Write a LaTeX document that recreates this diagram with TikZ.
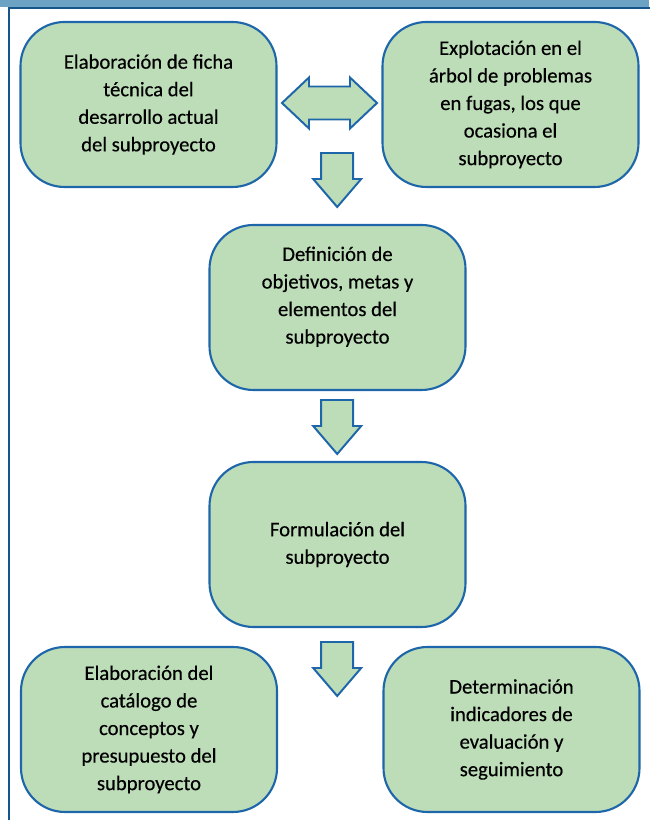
\documentclass[tikz,border=0pt]{standalone}
\usepackage{fontspec}
\setmainfont{Carlito}[FakeBold=0.35]
\usepackage{tikz}

\definecolor{boxgreen}{RGB}{189,220,184}
\definecolor{lineblue}{RGB}{30,102,170}
\definecolor{barblue}{RGB}{108,162,196}
\definecolor{frameblue}{RGB}{22,84,140}

\tikzset{
    stagebox/.style={draw=lineblue, fill=boxgreen, line width=1.5pt, rounded corners=1.1cm,
        minimum width=6.4cm, minimum height=4.125cm, align=center, text=black,
        font=\fontsize{14.7}{19.6}\selectfont},
    blockarrow/.style={draw=lineblue, fill=boxgreen, line width=1.4pt, line join=miter}
}

\begin{document}
\begin{tikzpicture}
        \useasboundingbox (0, 0) rectangle (16.225, 20.5);

        \begin{scope}
            \fill[barblue] (0, 20.325) rectangle (16.225, 20.5);
            \draw[frameblue, line width=1.8pt] (0.225, -0.1) -- (0.225, 20.3) -- (16.3, 20.3);
        \end{scope}

        \node[stagebox] (ficha) at (3.7125, 17.8875) {Elaboración de ficha\\técnica del\\desarrollo actual\\del subproyecto};
        \node[stagebox] (arbol) at (12.7625, 17.8875) {Explotación en el\\árbol de problemas\\en fugas, los que\\ocasiona el\\subproyecto};
        \node[stagebox, text depth=0.62cm] (objetivos) at (8.4375, 12.8125) {Definición de\\objetivos, metas y\\elementos del\\subproyecto};
        \node[stagebox] (formulacion) at (8.4375, 6.8875) {Formulación del\\subproyecto};
        \node[stagebox] (catalogo) at (3.725, 2.2625) {Elaboración del\\catálogo de\\conceptos y\\presupuesto del\\subproyecto};
        \node[stagebox] (indicadores) at (12.7875, 2.2625) {Determinación\\indicadores de\\evaluación y\\seguimiento};

        \draw[blockarrow] (7.05, 17.925) -- (7.725, 18.5625) -- (7.725, 18.3375) -- (8.75, 18.3375)
            -- (8.75, 18.5625) -- (9.425, 17.925) -- (8.75, 17.2875) -- (8.75, 17.5125)
            -- (7.725, 17.5125) -- (7.725, 17.2875) -- cycle;

        \foreach \t in {16.675, 10.5, 4.45}
            \draw[blockarrow] (8.03, \t) -- ++(0.8, 0) -- ++(0, -0.65) -- ++(0.2, 0)
                -- ++(-0.6, -0.7) -- ++(-0.6, 0.7) -- ++(0.2, 0) -- cycle;

    \end{tikzpicture}
\end{document}
